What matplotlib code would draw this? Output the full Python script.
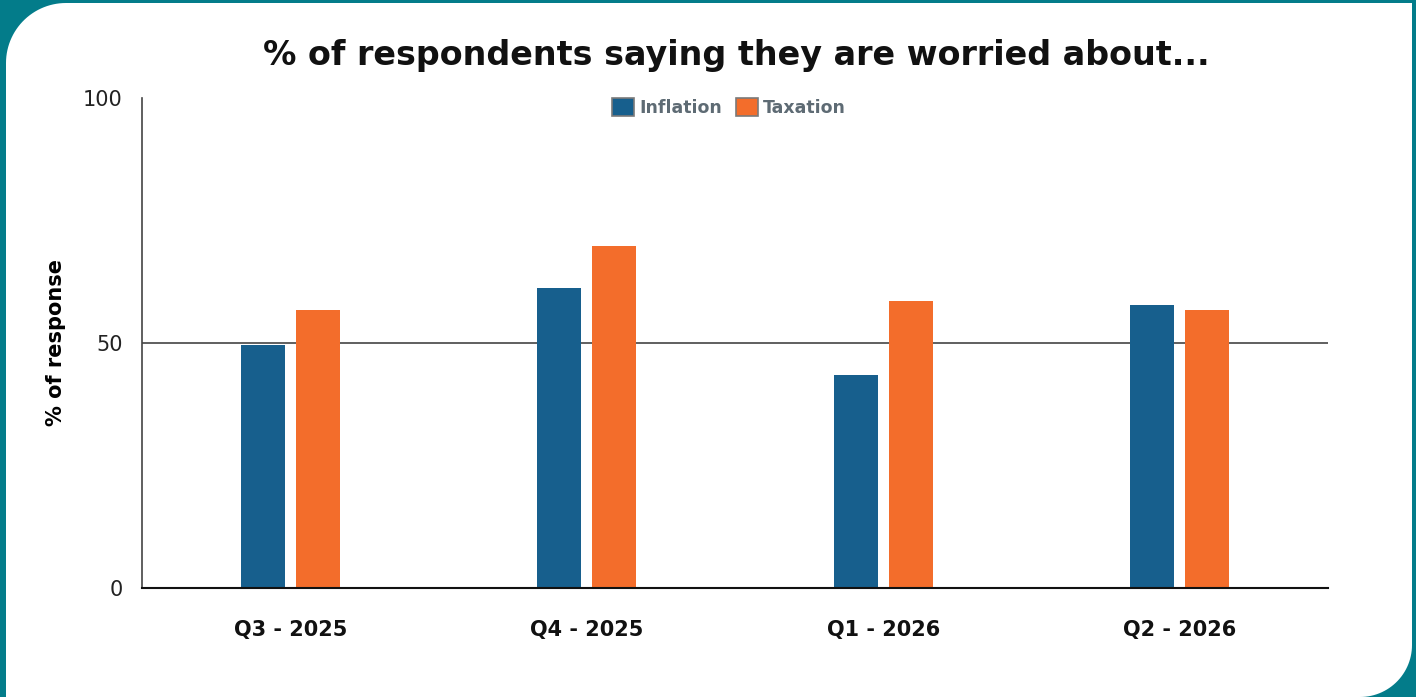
import matplotlib.pyplot as plt
import numpy as np
from matplotlib.patches import Polygon, Patch

quarters = ['Q3 - 2025', 'Q4 - 2025', 'Q1 - 2026', 'Q2 - 2026']
inflation = [49.5, 61.2, 43.5, 57.8]
taxation = [56.8, 69.8, 58.6, 56.8]

blue = '#175F8D'
orange = '#F36D2B'
teal = '#037C8A'

W, H = 1416, 697
fig = plt.figure(figsize=(W / 100, H / 100), dpi=100, facecolor=teal)

# white card with rounded top-left and bottom-right corners (pixel coords, y down)
def card_outline(x0, y0, x1, y1, r1, r2):
    pts = [(x0, y1), (x0, y0 + r1)]
    for a in np.linspace(np.pi, 1.5 * np.pi, 30):
        pts.append((x0 + r1 + r1 * np.cos(a), y0 + r1 + r1 * np.sin(a)))
    pts += [(x1, y0), (x1, y1 - r2)]
    for a in np.linspace(0, 0.5 * np.pi, 30):
        pts.append((x1 - r2 + r2 * np.cos(a), y1 - r2 + r2 * np.sin(a)))
    return [(x / 100, (H - y) / 100) for x, y in pts]

card = Polygon(card_outline(6, 3, 1412, 697, 60, 52), closed=True,
               facecolor='white', edgecolor='none',
               transform=fig.dpi_scale_trans, zorder=-5)
fig.patches.append(card)

ax = fig.add_axes([142 / W, 1 - 588 / H, (1328 - 142) / W, (588 - 98) / H])
ax.set_facecolor('none')

x = np.arange(len(quarters))
w = 0.148
off = 0.0925
ax.bar(x - off, inflation, w, color=blue, zorder=2)
ax.bar(x + off, taxation, w, color=orange, zorder=2)

ax.set_xlim(-0.5, len(quarters) - 0.5)
ax.set_ylim(0, 100)
ax.set_yticks([0, 50, 100])
ax.set_xticks(x)
ax.set_xticklabels(quarters, fontsize=15, fontweight='bold', color='#111111')
ax.tick_params(axis='x', length=0, pad=23)
ax.tick_params(axis='y', length=0, pad=14, labelsize=15, labelcolor='#222222')
ax.axhline(50, color='#444444', lw=1.2, zorder=1)

for s in ['top', 'right']:
    ax.spines[s].set_visible(False)
ax.spines['left'].set_color('#444444')
ax.spines['left'].set_linewidth(1.2)
ax.spines['bottom'].set_color('#111111')
ax.spines['bottom'].set_linewidth(1.5)
ax.spines['bottom'].set_zorder(3)

ax.set_ylabel('% of response', fontsize=15, fontweight='bold', labelpad=12)

fig.text(736 / W, 1 - 55 / H, '% of respondents saying they are worried about...',
         ha='center', va='center', fontsize=24, fontweight='bold', color='#111111')

handles = [Patch(facecolor=blue, edgecolor='#7a7a7a', lw=1.2, label='Inflation'),
           Patch(facecolor=orange, edgecolor='#7a7a7a', lw=1.2, label='Taxation')]
leg = ax.legend(handles=handles, loc='upper center', bbox_to_anchor=(0.495, 1.015),
                ncol=2, frameon=False, handlelength=1.25, handleheight=1.25,
                handletextpad=0.3, columnspacing=0.8, borderaxespad=0.0,
                prop={'size': 12.5, 'weight': 'bold'})
for t in leg.get_texts():
    t.set_color('#5E6B74')

fig.savefig('out.png', dpi=100, facecolor=teal)
